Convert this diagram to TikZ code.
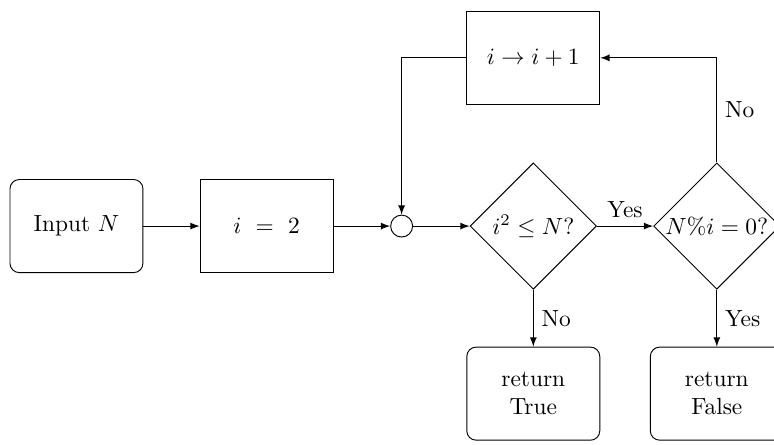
\documentclass[tikz,border=0pt]{standalone}
\usepackage{amsmath}
\usepackage{amssymb}
\usepackage{tikz}
\usetikzlibrary{arrows,shapes.geometric}

\begin{document}
\begin{tikzpicture}[>=latex,
	terminal/.style={draw, rounded corners, minimum width=2cm, minimum height=1.4cm, align=center},
	process/.style={draw, minimum width=2cm, minimum height=1.4cm},
	decision/.style={draw, diamond, aspect=1, inner sep=0pt, minimum size=1.9cm},
	junction/.style={draw, circle, inner sep=0pt, minimum size=0.33cm}]
		%\draw [help lines] (0,0) grid (12,-7);
		\useasboundingbox (0,0) rectangle (11.64,-6.68);
		\node [terminal] (input) at (1.15,-3.4) {Input $N$};
		\node [process] (init) at (4.01,-3.4) {$i\ =\ 2$};
		\node [junction] (join) at (6.04,-3.4) {};
		\node [decision, label={center:$i^2\leq N?$}] (test) at (8.02,-3.4) {};
		\node [decision, label={center:$N\%i=0?$}] (divides) at (10.78,-3.4) {};
		\node [process] (incr) at (8.02,-0.87) {$i\to i+1$};
		\node [terminal] (prime) at (8.02,-5.92) {return\\True};
		\node [terminal] (notprime) at (10.78,-5.92) {return\\False};
		\draw [->] (input) -- (init);
		\draw [->] (init) -- (join);
		\draw [->] (join) -- (test);
		\draw [->] (test) -- (divides) node [pos=0.5, above] {Yes};
		\draw [->] (test) -- (prime) node [pos=0.5, right] {No};
		\draw [->] (divides) -- (notprime) node [pos=0.5, right] {Yes};
		\draw [->] (divides.north) |- (incr.east) node [pos=0.25, right] {No};
		\draw [->] (incr.west) -| (join.north);
	\end{tikzpicture}
\end{document}
